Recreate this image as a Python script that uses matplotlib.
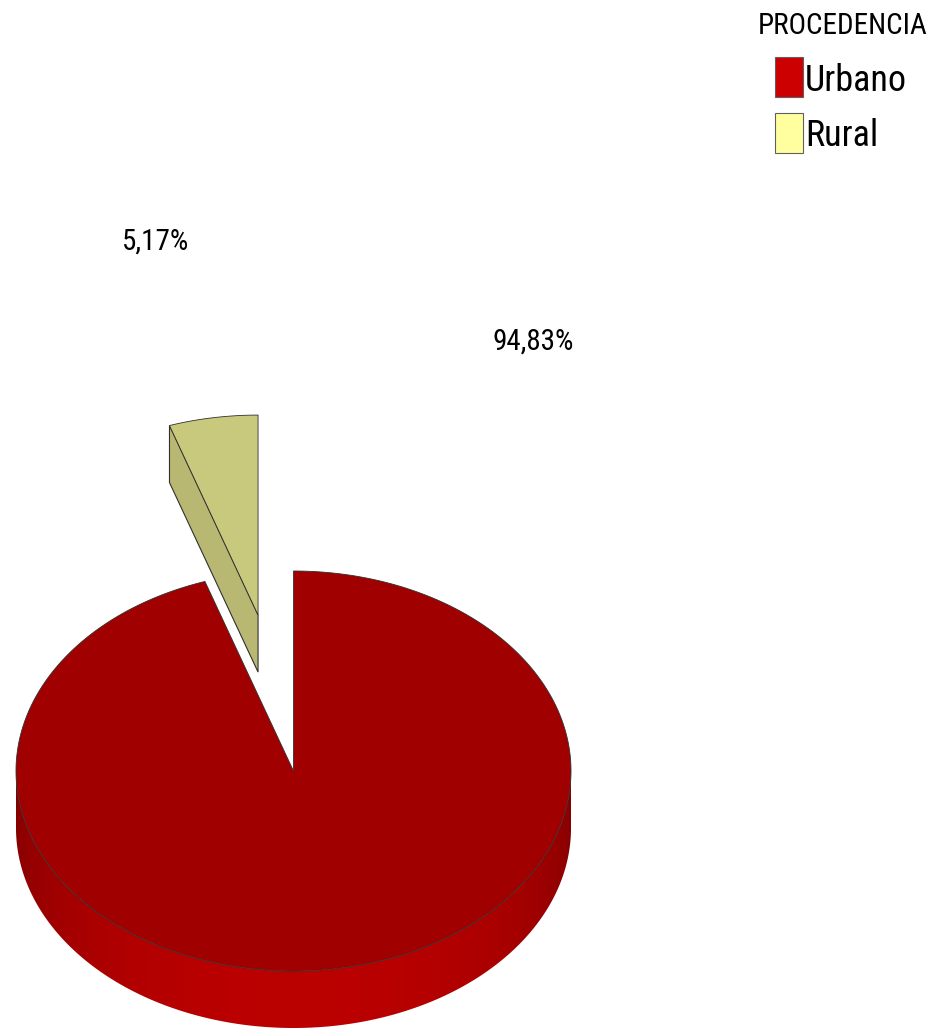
import numpy as np
import matplotlib.pyplot as plt
from matplotlib.patches import Polygon, Rectangle
from matplotlib.colors import to_rgb

plt.rcParams['font.family'] = ['Roboto Condensed', 'Liberation Sans', 'DejaVu Sans']

# procedencia de los pacientes
labels = ['Urbano', 'Rural']
values = [94.83, 5.17]
colors = ['#CC0000', '#FFFFA0']
explode = [0.0, 0.79]
label_pos = [(533, 342), (156, 242)]

W, H = 937, 1031
fig = plt.figure(figsize=(W / 100, H / 100), dpi=100)
ax = fig.add_axes([0, 0, 1, 1])
ax.set_xlim(0, W)
ax.set_ylim(H, 0)
ax.axis('off')

# 3d pie geometry (screen units)
cx, cy = 293.5, 771
rx, ry = 277.5, 200
depth = 57


def shade(c, f):
    r, g, b = to_rgb(c)
    return (r * f, g * f, b * f)


def pt(a, r=1.0, off=(0, 0), dz=0):
    t = np.radians(a)
    return (cx + off[0] + rx * r * np.cos(t), cy + off[1] - ry * r * np.sin(t) + dz)


# slices go clockwise starting at 12 o'clock
total = sum(values)
start = 90.0
slices = []
for lab, v, c, ex in zip(labels, values, colors, explode):
    sweep = 360.0 * v / total
    a2 = start
    a1 = start - sweep
    mid = np.radians((a1 + a2) / 2)
    off = (ex * rx * np.cos(mid), -ex * ry * np.sin(mid))
    slices.append((lab, a1, a2, c, off))
    start = a1

edge = '#303030'

# back slice first (the exploded one sits behind the main body)
for lab, a1, a2, c, off in slices[::-1]:
    ctop = pt(0, 0, off)
    cbot = pt(0, 0, off, depth)
    # radial walls, only the ones facing the viewer
    for a, sgn in ((a1, 1), (a2, -1)):
        ny = sgn * (-np.cos(np.radians(a)))
        if ny < -1e-3:
            wall = [ctop, pt(a, 1, off), pt(a, 1, off, depth), cbot]
            ax.add_patch(Polygon(wall, closed=True, fc=shade(c, 0.72), ec=edge, lw=0.8, zorder=2))
    # outer rim over the front half, shaded with a horizontal gradient
    lo, hi = max(a1, 180), min(a2, 360)
    if lo >= hi:
        lo, hi = max(a1, -180), min(a2, 0)
    if lo < hi:
        angs = np.linspace(lo, hi, 300)
        rim = [pt(a, 1, off) for a in angs] + [pt(a, 1, off, depth) for a in angs[::-1]]
        rim_patch = Polygon(rim, closed=True, fc='none', ec='none', zorder=2)
        ax.add_patch(rim_patch)
        xs = np.linspace(cx + off[0] - rx, cx + off[0] + rx, 600)
        u = np.clip((xs - cx - off[0]) / rx, -1, 1)
        f = 0.64 + 0.28 * np.sqrt(1 - u ** 2)
        img = np.array([[shade(c, fi) for fi in f]])
        y0 = cy + off[1]
        im = ax.imshow(img, extent=(xs[0], xs[-1], y0 + ry + depth + 2, y0 - 2),
                       aspect='auto', interpolation='bilinear', zorder=2)
        im.set_clip_path(rim_patch)
    # top face
    angs = np.linspace(a1, a2, 400)
    top = [ctop] + [pt(a, 1, off) for a in angs]
    ax.add_patch(Polygon(top, closed=True, fc=shade(c, 0.79), ec=edge, lw=0.6, zorder=3))

ax.set_xlim(0, W)
ax.set_ylim(H, 0)

# percentage labels
for (lab, a1, a2, c, off), v, (tx, ty) in zip(slices, values, label_pos):
    ax.text(tx, ty, f'{v:.2f}%'.replace('.', ','), fontsize=21, ha='center', va='center')

# legend
ax.text(928, 26, 'PROCEDENCIA', fontsize=21, ha='right', va='center')
for i, (lab, c) in enumerate(zip(labels, colors)):
    y0 = 57 + i * 55.5
    ax.add_patch(Rectangle((775, y0), 28, 40, fc=c, ec='#606060', lw=0.8, zorder=3))
    ax.text(805, y0 + 24, lab, fontsize=26, ha='left', va='center')

fig.savefig('out.png', dpi=100)
